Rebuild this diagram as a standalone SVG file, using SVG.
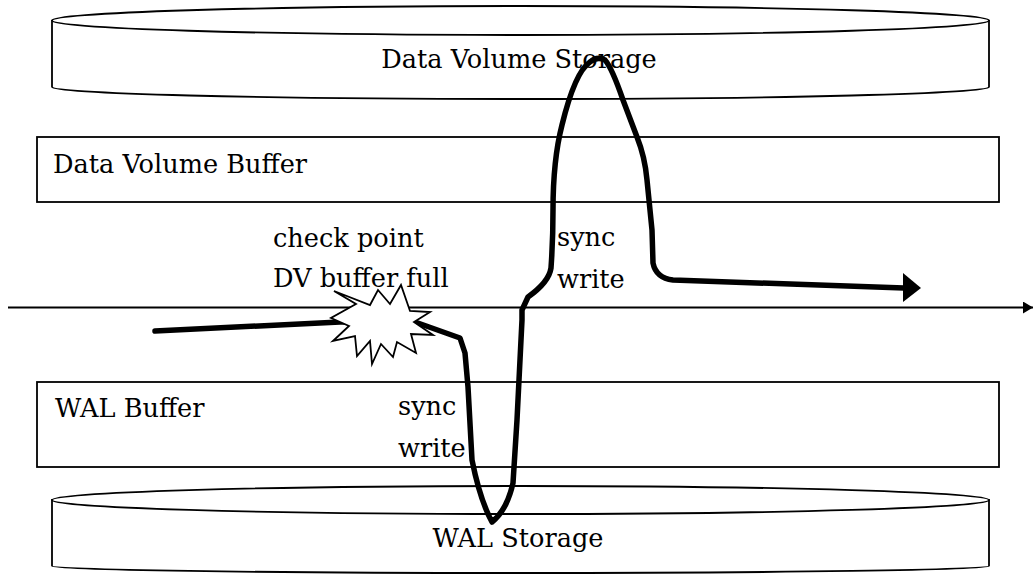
<svg xmlns="http://www.w3.org/2000/svg" width="1034" height="574" viewBox="0 0 1034 574">
  <style>
    .shape { fill: #fff; stroke: #000; stroke-width: 1.8; }
    .label { font-family: "DejaVu Serif", "Liberation Serif", serif; font-size: 25.6px; fill: #000; }
    .flow { fill: none; stroke: #000; stroke-width: 5.5; stroke-linejoin: round; stroke-linecap: round; }
    .axis { fill: none; stroke: #000; stroke-width: 1.8; }
  </style>
  <defs>
    <marker id="thinHead" viewBox="0 0 10 12" refX="10" refY="6" markerWidth="10" markerHeight="12" markerUnits="userSpaceOnUse" orient="auto">
      <path d="M0,0 L10,6 L0,12 Z" fill="#000"/>
    </marker>
  </defs>

  <!-- data volume storage (cylinder) -->
  <g id="dv-storage">
    <path class="shape" d="M52,21 V87 A468.5,12 0 0 0 989,87 V21 Z"/>
    <ellipse class="shape" cx="520.5" cy="20.5" rx="468.5" ry="14.5"/>
    <text class="label" x="519" y="68" text-anchor="middle">Data Volume Storage</text>
  </g>

  <!-- data volume buffer -->
  <g id="dv-buffer">
    <rect class="shape" x="37" y="137" width="962" height="65"/>
    <text class="label" x="53" y="173">Data Volume Buffer</text>
  </g>

  <!-- WAL buffer -->
  <g id="wal-buffer">
    <rect class="shape" x="37" y="382" width="962" height="85"/>
    <text class="label" x="55" y="417">WAL Buffer</text>
  </g>

  <!-- WAL storage (cylinder) -->
  <g id="wal-storage">
    <path class="shape" d="M52,500 V566 A468.5,7 0 0 0 989,566 V500 Z"/>
    <ellipse class="shape" cx="520.5" cy="500" rx="468.5" ry="14"/>
    <text class="label" x="518" y="547" text-anchor="middle">WAL Storage</text>
  </g>

  <!-- annotations -->
  <g id="labels">
    <text class="label" x="273" y="247">check point</text>
    <text class="label" x="273" y="287">DV buffer full</text>
    <text class="label" x="557" y="246">sync</text>
    <text class="label" x="557" y="288">write</text>
    <text class="label" x="398" y="415">sync</text>
    <text class="label" x="398" y="457">write</text>
  </g>

  <!-- connectors -->
  <g id="connectors">
    <line class="axis" x1="8" y1="307.5" x2="1033" y2="307.5" marker-end="url(#thinHead)"/>
    <path class="flow" d="M155,331 L340,322 L415,322 L460,338 L465,353 L468,387 L472,460 Q480,500 492,522 Q507,510 513,483 L517,420 L522,320 L522,310 L528,297 Q549,282 551,268 Q553,240 553,210 Q553,160 562,125 Q575,72 590,62 Q597,56 605,60 Q612,68 623,100 L637,137 Q645,157 647,180 L652,230 L653,263 Q656,278 673,280 L904,288"/>
    <path d="M903,273 L921,288 L903,302 Z" fill="#000"/>
  </g>

  <!-- burst marking the trigger point -->
  <g id="burst">
    <polygon class="shape" stroke-linejoin="miter" points="334,291 356,304 331,318 349,326 333,341 355,336 357,356 370,341 372,364 381,344 393,357 397,342 416,353 411,334 433,335 414,322 430,312 410,311 401,285 390,304 378,290 370,305"/>
  </g>
</svg>
